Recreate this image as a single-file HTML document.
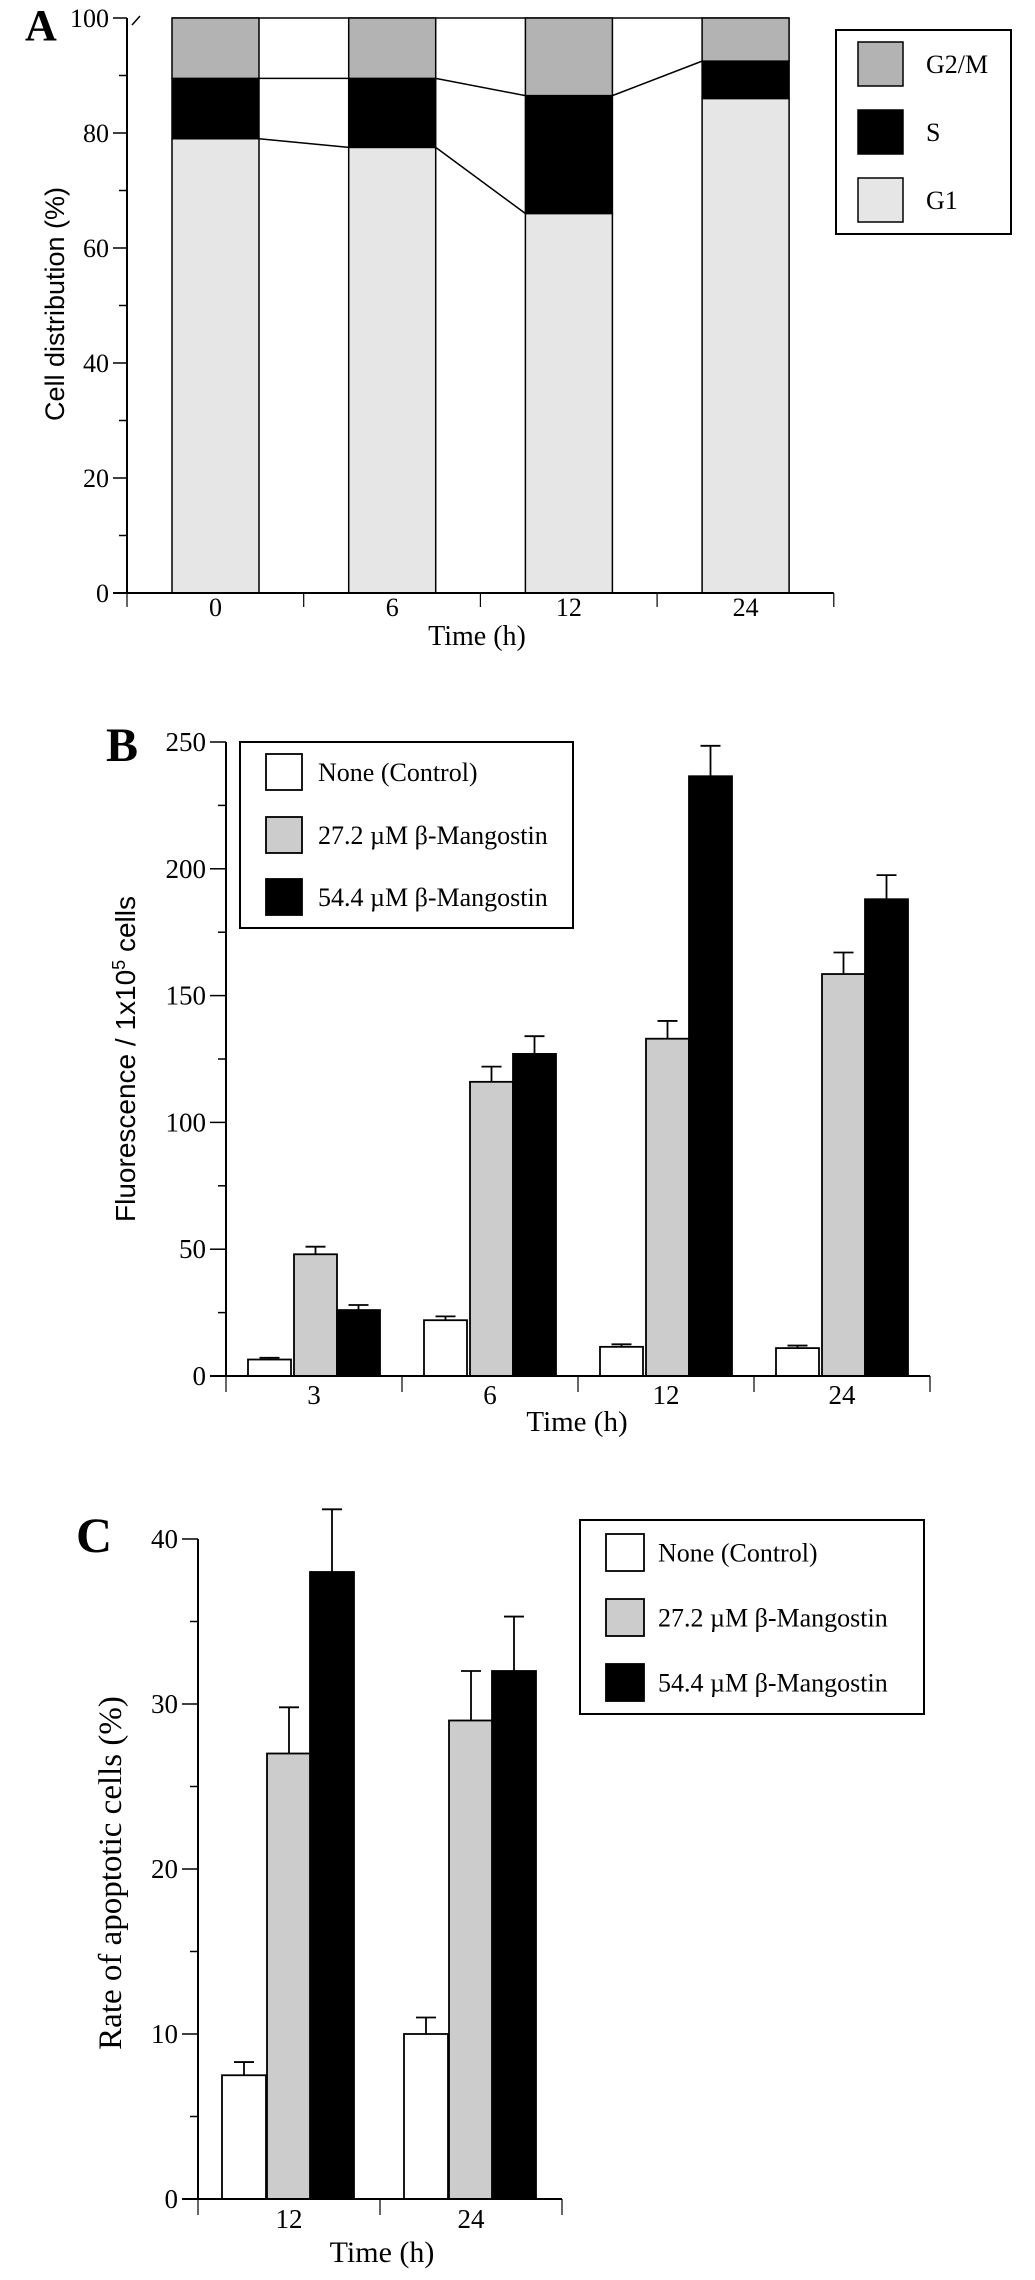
<!DOCTYPE html>
<html><head><meta charset="utf-8"><style>
html,body{margin:0;padding:0;background:#fff;}
svg{display:block;}
text{font-family:"Liberation Serif",serif;fill:#000;}
.sans{font-family:"Liberation Sans",sans-serif;}
</style></head><body>
<svg id="fig" width="1035" height="2280" viewBox="0 0 1035 2280" xmlns="http://www.w3.org/2000/svg">
<g id="pa"></g>
<g id="pb"></g>
<g id="pc"></g>
</svg>
<script>
// Panel A data
const aCategories = ["0", "6", "12", "24"];
const aG1 = [79, 77.5, 66, 86];
const aS = [10.5, 12, 20.5, 6.5];
const aG2M = [10.5, 10.5, 13.5, 7.5];
const aTicks = [0, 20, 40, 60, 80, 100];
// Panel B data
const bCategories = ["3", "6", "12", "24"];
const bControl = [6.5, 22, 11.5, 11];
const bLow = [48, 116, 133, 158.5];
const bHigh = [26, 127, 236.5, 188];
const bControlErr = [0.7, 1.5, 1, 1];
const bLowErr = [3, 6, 7, 8.5];
const bHighErr = [2, 7, 12, 9.5];
const bTicks = [0, 50, 100, 150, 200, 250];
// Panel C data
const cCategories = ["12", "24"];
const cControl = [7.5, 10];
const cLow = [27, 29];
const cHigh = [38, 32];
const cControlErr = [0.8, 1];
const cLowErr = [2.8, 3];
const cHighErr = [3.8, 3.3];
const cTicks = [0, 10, 20, 30, 40];

const NS = "http://www.w3.org/2000/svg";
function mk(parent, tag, attrs, txt) {
  const e = document.createElementNS(NS, tag);
  for (const k in attrs) e.setAttribute(k, attrs[k]);
  if (txt !== undefined) e.textContent = txt;
  parent.appendChild(e);
  return e;
}

// ---------- Panel A ----------
(function () {
  const g = document.getElementById('pa');
  const ax = 127, y0 = 593, y100 = 18;
  const yA = v => y0 - (v / 100) * (y0 - y100);
  const step = 176.7, barL = 172, bw = 87;
  const xEnd = ax + step * aCategories.length;
  let t = mk(g, 'text', {x: 25, y: 40, 'font-size': 44, 'font-weight': 'bold'}, 'A');
  
  
  let yl = mk(g, 'line', {x1: ax, y1: yA(100), x2: ax, y2: y0, stroke: '#000', 'stroke-width': 2});
  
  
  let sl = mk(g, 'line', {x1: 132, y1: 25, x2: 140, y2: 16, stroke: '#000', 'stroke-width': 1.5});
  
  
  for (let v = 0; v <= 100; v += 10) {
    const major = v % 20 === 0;
    let tk = mk(g, 'line', {x1: major ? ax - 14 : ax - 8, y1: yA(v), x2: ax, y2: yA(v), stroke: '#000', 'stroke-width': 1.5});
    
    
  }
  aTicks.forEach(v => {
    let tl = mk(g, 'text', {x: ax - 18, y: yA(v) + 9, 'font-size': 26, 'text-anchor': 'end'}, String(v));
    
    
  });
  let yt = mk(g, 'text', {x: 0, y: 0, 'font-size': 27, 'text-anchor': 'middle', class: 'sans', transform: 'translate(64,304) rotate(-90)'}, 'Cell distribution (%)');
  
  
  // top line at 100 across gaps
  let tl100 = mk(g, 'line', {x1: barL, y1: yA(100), x2: barL + step * 3 + bw, y2: yA(100), stroke: '#000', 'stroke-width': 1.5});
  
  
  const segCols = ['#e6e6e6', '#000', '#b3b3b3'];
  const segNames = ['g1', 's', 'g2m'];
  aCategories.forEach((c, i) => {
    const x = barL + step * i;
    const vals = [aG1[i], aS[i], aG2M[i]];
    let base = 0;
    vals.forEach((v, j) => {
      let r = mk(g, 'rect', {x: x, y: yA(base + v), width: bw, height: yA(base) - yA(base + v), fill: segCols[j], stroke: '#000', 'stroke-width': 1.5});
      
      
      base += v;
    });
    const xt = x + bw / 2;
    let xl = mk(g, 'text', {x: xt, y: 616, 'font-size': 26, 'text-anchor': 'middle'}, c);
    
    
  });
  // connector lines
  for (let i = 0; i < aCategories.length - 1; i++) {
    const xa = barL + step * i + bw, xb = barL + step * (i + 1);
    const sTopA = aG1[i] + aS[i], sTopB = aG1[i + 1] + aS[i + 1];
    let l1 = mk(g, 'line', {x1: xa, y1: yA(sTopA), x2: xb, y2: yA(sTopB), stroke: '#000', 'stroke-width': 1.5});
    
    
    if (i < aCategories.length - 2) {
      let l2 = mk(g, 'line', {x1: xa, y1: yA(aG1[i]), x2: xb, y2: yA(aG1[i + 1]), stroke: '#000', 'stroke-width': 1.5});
      
      
    }
  }
  let xa = mk(g, 'line', {x1: ax - 14, y1: y0, x2: xEnd, y2: y0, stroke: '#000', 'stroke-width': 2});
  
  
  for (let i = 0; i <= aCategories.length; i++) {
    let tk = mk(g, 'line', {x1: ax + step * i, y1: y0, x2: ax + step * i, y2: y0 + 14, stroke: '#000', 'stroke-width': 1.2});
    
    
  }
  let xt = mk(g, 'text', {x: 477, y: 645, 'font-size': 28, 'text-anchor': 'middle'}, 'Time (h)');
  
  
  // legend
  const lg = mk(g, 'g', {});
  
  
  mk(lg, 'rect', {x: 836, y: 30, width: 175, height: 204, fill: '#fff', stroke: '#000', 'stroke-width': 2});
  const lItems = [['G2/M', '#b3b3b3', 42], ['S', '#000', 110], ['G1', '#e6e6e6', 178]];
  lItems.forEach(it => {
    const e = mk(lg, 'g', {});
    
    
    mk(e, 'rect', {x: 858, y: it[2], width: 45, height: 44, fill: it[1], stroke: '#000', 'stroke-width': 1.5});
    mk(e, 'text', {x: 926, y: it[2] + 31, 'font-size': 26}, it[0]);
  });
})();

// ---------- grouped bar helper ----------
function grouped(g, o) {
  const yS = v => o.y0 - (v / o.max) * (o.y0 - o.yTop);
  let yl = mk(g, 'line', {x1: o.ax, y1: o.yTop, x2: o.ax, y2: o.y0, stroke: '#000', 'stroke-width': 2});
  
  
  for (let v = 0; v <= o.max + 0.001; v += o.minor) {
    const major = Math.abs(v / o.major - Math.round(v / o.major)) < 1e-6;
    let tk = mk(g, 'line', {x1: major ? o.ax - 16 : o.ax - 8, y1: yS(v), x2: o.ax, y2: yS(v), stroke: '#000', 'stroke-width': 1.5});
    
    
  }
  o.ticks.forEach(v => {
    let tl = mk(g, 'text', {x: o.ax - 20, y: yS(v) + 9, 'font-size': 27, 'text-anchor': 'end'}, String(v));
    
    
  });
  const cols = ['#fff', '#cccccc', '#000'];
  const sn = ['control', 'low-dose', 'high-dose'];
  o.cats.forEach((c, i) => {
    const gx = o.ax + o.step * i;
    [o.s0, o.s1, o.s2].forEach((arr, j) => {
      const x = gx + o.offs[j];
      const err = [o.e0, o.e1, o.e2][j][i];
      const cx = x + o.bw / 2;
      let el = mk(g, 'line', {x1: cx, y1: yS(arr[i]), x2: cx, y2: yS(arr[i] + err), stroke: '#000', 'stroke-width': 1.8});
      
      
      let ec = mk(g, 'line', {x1: cx - 10, y1: yS(arr[i] + err), x2: cx + 10, y2: yS(arr[i] + err), stroke: '#000', 'stroke-width': 1.8});
      
      
      let r = mk(g, 'rect', {x: x, y: yS(arr[i]), width: o.bw, height: o.y0 - yS(arr[i]), fill: cols[j], stroke: '#000', 'stroke-width': 1.8});
      
      
    });
    let xl = mk(g, 'text', {x: gx + o.step / 2, y: o.labY, 'font-size': 27, 'text-anchor': 'middle'}, c);
    
    
  });
  const xEnd = o.ax + o.step * o.cats.length;
  let xa = mk(g, 'line', {x1: o.ax - 16, y1: o.y0, x2: xEnd, y2: o.y0, stroke: '#000', 'stroke-width': 2});
  
  
  for (let i = 0; i <= o.cats.length; i++) {
    let tk = mk(g, 'line', {x1: o.ax + o.step * i, y1: o.y0, x2: o.ax + o.step * i, y2: o.y0 + 16, stroke: '#000', 'stroke-width': 1.2});
    
    
  }
}
function legend3(g, box, sw, tx, rows) {
  const lg = mk(g, 'g', {});
  
  
  mk(lg, 'rect', {x: box[0], y: box[1], width: box[2], height: box[3], fill: '#fff', stroke: '#000', 'stroke-width': 2});
  const labels = ['None (Control)', '27.2 \u00b5M \u03b2-Mangostin', '54.4 \u00b5M \u03b2-Mangostin'];
  const cols = ['#fff', '#cccccc', '#000'];
  rows.forEach((y, i) => {
    const e = mk(lg, 'g', {});
    
    
    mk(e, 'rect', {x: sw[0], y: y, width: sw[1], height: sw[2], fill: cols[i], stroke: '#000', 'stroke-width': 1.8});
    mk(e, 'text', {x: tx, y: y + sw[2] / 2 + 9, 'font-size': 26}, labels[i]);
  });
}

// ---------- Panel B ----------
(function () {
  const g = document.getElementById('pb');
  let t = mk(g, 'text', {x: 106, y: 761, 'font-size': 48, 'font-weight': 'bold'}, 'B');
  
  
  grouped(g, {ax: 226, y0: 1376, yTop: 742, max: 250, minor: 25, major: 50, ticks: bTicks,
    cats: bCategories, step: 176, offs: [22, 68, 111], bw: 43, s0: bControl, s1: bLow, s2: bHigh,
    e0: bControlErr, e1: bLowErr, e2: bHighErr, labY: 1404});
  let yt = mk(g, 'text', {x: 0, y: 0, 'font-size': 28, 'text-anchor': 'middle', class: 'sans', transform: 'translate(135,1059) rotate(-90)'});
  
  
  mk(yt, 'tspan', {}, 'Fluorescence / 1x10');
  mk(yt, 'tspan', {dy: -10, 'font-size': 18}, '5');
  mk(yt, 'tspan', {dy: 10}, ' cells');
  let xt = mk(g, 'text', {x: 577, y: 1431, 'font-size': 29, 'text-anchor': 'middle'}, 'Time (h)');
  
  
  legend3(g, [240, 742, 333, 186], [266, 36, 36], 318, [754, 817, 879]);
})();

// ---------- Panel C ----------
(function () {
  const g = document.getElementById('pc');
  let t = mk(g, 'text', {x: 76, y: 1552, 'font-size': 50, 'font-weight': 'bold'}, 'C');
  
  
  grouped(g, {ax: 198, y0: 2199, yTop: 1539, max: 40, minor: 5, major: 10, ticks: cTicks,
    cats: cCategories, step: 182, offs: [24, 69, 112], bw: 44, s0: cControl, s1: cLow, s2: cHigh,
    e0: cControlErr, e1: cLowErr, e2: cHighErr, labY: 2228});
  let yt = mk(g, 'text', {x: 0, y: 0, 'font-size': 33, 'text-anchor': 'middle', transform: 'translate(121,1873) rotate(-90)'}, 'Rate of apoptotic cells (%)');
  
  
  let xt = mk(g, 'text', {x: 382, y: 2262, 'font-size': 30, 'text-anchor': 'middle'}, 'Time (h)');
  
  
  legend3(g, [580, 1520, 344, 194], [606, 38, 37], 658, [1534, 1599, 1664]);
})();
</script>
</body></html>
